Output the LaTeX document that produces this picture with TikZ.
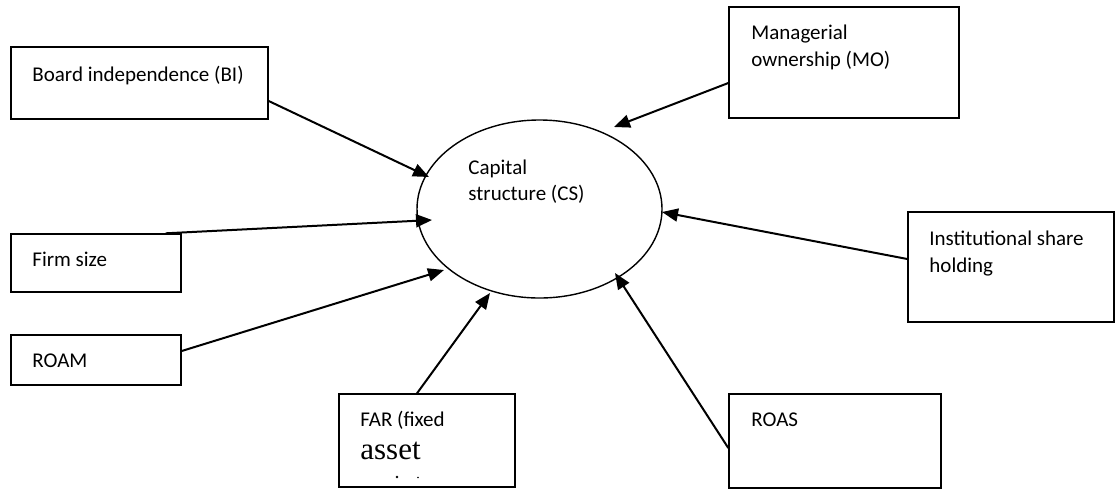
\documentclass[tikz,border=0pt]{standalone}
\usepackage{fontspec}
\setmainfont{Carlito}
\newfontfamily\timesfont{Liberation Serif}
\usetikzlibrary{arrows.meta,shapes.geometric,fit}
\begin{document}
\begin{tikzpicture}[x=0.5pt,y=-0.5pt,
  box/.style={draw, line width=0.7pt, inner sep=0pt, rectangle},
  lbl/.style={anchor=base west, inner sep=0pt, font=\fontsize{10.5}{12}\selectfont},
  link/.style={line width=1pt, -{Triangle[length=8pt,width=6.5pt]}},
  ]
\fill[white] (0,0) rectangle (1117,489);
\useasboundingbox (0,0) rectangle (1117,489);

% boxes
\node[box, fit={(11,47) (268,119)}] (bi) {};
\node[box, fit={(729,7) (959,118)}] (mo) {};
\node[box, fit={(11,234) (181,292)}] (firm) {};
\node[box, fit={(11,335) (181,385)}] (roam) {};
\node[box, fit={(339,394) (515,487)}] (far) {};
\node[box, fit={(729,394) (941,488)}] (roas) {};
\node[box, fit={(908,212) (1114,322)}] (inst) {};
\node[draw, ellipse, line width=0.7pt, minimum width=122.5pt, minimum height=89pt, inner sep=0pt] (cs) at (539.5,209) {};

% texts
\node[lbl] (tbi) at (32,81) {Board independence (BI)};
\node[lbl] (tmo1) at (751,39) {Managerial};
\node[lbl] (tmo2) at (751,66.5) {ownership (MO)};
\node[lbl] (tcs1) at (468,174) {Capital};
\node[lbl] (tcs2) at (468,200) {structure (CS)};
\node[lbl] (tfirm) at (32,266) {Firm size};
\node[lbl] (troam) at (32,367) {ROAM};
\node[lbl] (tinst1) at (929,245) {Institutional share};
\node[lbl] (tinst2) at (929,272) {holding};
\node[lbl] (troas) at (751,426) {ROAS};
\node[lbl] (tfar1) at (360,426) {FAR (fixed};
\node[anchor=base west, inner sep=0pt, font=\timesfont\fontsize{15.5}{18}\selectfont] (tfar2) at (360,459) {asset};
\fill (397,477) circle[radius=1.4];
\fill (418,477.5) circle[radius=0.9];

% connectors
\draw[link] ([shift={(0,18)}]bi.east) -- ([shift={(-110.5,-32)}]cs.center);
\draw[link] ([shift={(0,20.5)}]mo.west) -- ([shift={(74.5,-82)}]cs.center);
\draw[link] ([shift={(-16,0)}]firm.north east) -- ([shift={(-107.5,11)}]cs.center);
\draw[link] ([shift={(0,-9)}]roam.east) -- ([shift={(-95.5,61)}]cs.center);
\draw[link] ([shift={(-10,0)}]far.north) -- ([shift={(-49.5,84)}]cs.center);
\draw[link] ([shift={(0,7)}]roas.west) -- ([shift={(75.5,64)}]cs.center);
\draw[link] ([shift={(0,-8)}]inst.west) -- ([shift={(122.5,3)}]cs.center);
\end{tikzpicture}
\end{document}
